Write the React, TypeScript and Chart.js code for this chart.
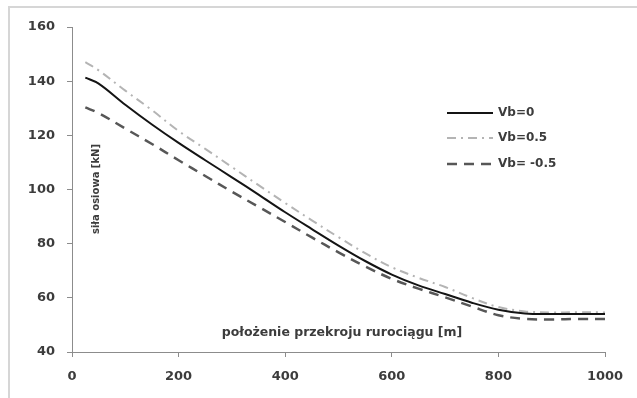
import React, { useEffect, useRef } from "react";
import { Chart, registerables } from "chart.js";

Chart.register(...registerables);

// Position along the pipeline [m]
const positions = [25, 50, 100, 150, 200, 250, 300, 350, 400, 450, 500, 550, 600, 650, 700, 750, 800, 850, 900, 950, 1000];

// Axial force [kN] for each Vb value
const forceVb0 = [141.3, 139.1, 131.3, 124.0, 117.2, 110.8, 104.5, 98.1, 91.6, 85.4, 79.3, 73.6, 68.6, 64.6, 61.4, 58.2, 55.6, 54.2, 54.0, 54.0, 54.0];
const forceVbPos = [147.0, 144.0, 136.5, 129.3, 121.6, 115.0, 108.3, 101.6, 95.0, 88.6, 82.4, 76.5, 71.3, 67.4, 64.0, 60.0, 56.6, 55.0, 54.6, 54.7, 54.6];
const forceVbNeg = [130.3, 128.2, 122.5, 116.8, 110.8, 105.0, 99.2, 93.6, 88.0, 82.3, 76.8, 71.6, 67.0, 63.4, 60.2, 56.8, 53.6, 52.2, 52.0, 52.2, 52.2];

const seriesLabels = ["Vb=0", "Vb=0.5", "Vb= -0.5"];
const xTicks = { min: 0, max: 1000, step: 200 };
const yTicks = { min: 40, max: 160, step: 20 };
const xTitle = "położenie przekroju rurociągu [m]";
const yTitle = "siła osiowa [kN]";

const FONT = "'DejaVu Sans', sans-serif";
const TEXT = "#3c3c3c";
const AXIS = "#8c8c8c";

const decorPlugin = {
  id: "decor",
  beforeDraw(chart: any) {
    const ctx = chart.ctx;
    ctx.save();
    ctx.strokeStyle = "#d6d6d6";
    ctx.lineWidth = 2;
    ctx.beginPath();
    ctx.moveTo(9, chart.height);
    ctx.lineTo(9, 7);
    ctx.lineTo(chart.width, 7);
    ctx.stroke();
    ctx.restore();
  },
  afterDraw(chart: any) {
    const ctx = chart.ctx;
    const area = chart.chartArea;
    ctx.save();
    ctx.fillStyle = TEXT;

    // axis titles placed inside the plot area
    ctx.font = `bold 12.5px ${FONT}`;
    ctx.textAlign = "center";
    ctx.textBaseline = "middle";
    ctx.fillText(xTitle, 342, area.bottom - 19);

    ctx.save();
    ctx.translate(area.left + 24, 189);
    ctx.rotate(-Math.PI / 2);
    ctx.font = `bold 10px ${FONT}`;
    ctx.fillText(yTitle, 0, 0);
    ctx.restore();

    // legend
    const lx = 447;
    const rows = [113, 138, 164];
    chart.data.datasets.forEach((ds: any, i: number) => {
      const y = rows[i];
      ctx.save();
      ctx.strokeStyle = ds.borderColor;
      ctx.lineWidth = ds.borderWidth;
      ctx.setLineDash(ds.borderDash || []);
      ctx.beginPath();
      ctx.moveTo(lx, y);
      ctx.lineTo(lx + 46, y);
      ctx.stroke();
      ctx.restore();
      ctx.font = `bold 12px ${FONT}`;
      ctx.textAlign = "left";
      ctx.textBaseline = "middle";
      ctx.fillStyle = TEXT;
      ctx.fillText(ds.label, lx + 51, y);
    });
    ctx.restore();
  },
};

export default function App() {
  const canvasRef = useRef<HTMLCanvasElement | null>(null);

  useEffect(() => {
    const canvas = canvasRef.current;
    if (!canvas) return;
    const toPoints = (vals: number[]) => positions.map((x, i) => ({ x, y: vals[i] }));

    const chart = new Chart(canvas, {
      type: "line",
      data: {
        datasets: [
          {
            label: seriesLabels[0],
            data: toPoints(forceVb0),
            borderColor: "#141414",
            borderWidth: 2,
            pointRadius: 0,
            tension: 0.35,
          },
          {
            label: seriesLabels[1],
            data: toPoints(forceVbPos),
            borderColor: "#b4b4b4",
            borderWidth: 2,
            borderDash: [9, 5, 2, 5],
            pointRadius: 0,
            tension: 0.35,
          },
          {
            label: seriesLabels[2],
            data: toPoints(forceVbNeg),
            borderColor: "#575757",
            borderWidth: 2.5,
            borderDash: [10, 7],
            pointRadius: 0,
            tension: 0.35,
          },
        ],
      },
      options: {
        responsive: false,
        animation: false,
        events: [],
        layout: { padding: { left: 0, top: 27, right: 32, bottom: 0 } },
        plugins: { legend: { display: false }, tooltip: { enabled: false } },
        scales: {
          x: {
            type: "linear",
            min: xTicks.min,
            max: xTicks.max,
            ticks: {
              stepSize: xTicks.step,
              color: TEXT,
              font: { family: FONT, size: 13, weight: "bold" },
              padding: 12,
              callback: (v: any) => String(v),
            },
            grid: { drawOnChartArea: false, tickLength: 5, color: AXIS },
            border: { color: AXIS, width: 1 },
            afterFit: (s: any) => {
              s.height = 46;
            },
          },
          y: {
            min: yTicks.min,
            max: yTicks.max,
            ticks: {
              stepSize: yTicks.step,
              color: TEXT,
              font: { family: FONT, size: 13, weight: "bold" },
              padding: 12,
              callback: (v: any) => String(v),
            },
            grid: { drawOnChartArea: false, tickLength: 5, color: AXIS },
            border: { color: AXIS, width: 1 },
            afterFit: (s: any) => {
              s.width = 72;
            },
          },
        },
      },
      plugins: [decorPlugin],
    });
    return () => chart.destroy();
  }, []);

  return (
    <div style={{ position: "fixed", left: 0, top: 0, width: 637, height: 398, background: "#fff" }}>
      <canvas ref={canvasRef} width={637} height={398} style={{ display: "block" }} />
    </div>
  );
}
